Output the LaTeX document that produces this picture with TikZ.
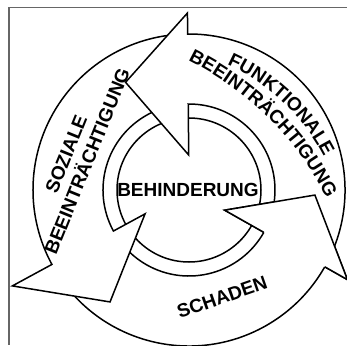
\documentclass[tikz,border=0pt]{standalone}
\usepackage{fontspec}
\setmainfont{Liberation Sans}
\usepackage{tikz}
\usetikzlibrary{decorations.text}
\newcommand{\lbl}{\fontsize{19}{19}\selectfont\bfseries}
\tikzset{arrowpart/.style={draw,fill=white,line width=1.5pt,line join=miter},
  frame/.style={draw=black!60,line width=1.3pt},
  txt/.style={font=\lbl,inner sep=0pt,anchor=base},
  arctxt/.style={decorate,decoration={text along path,text={|\lbl|#1},text align=center}}}

\begin{document}
\begin{tikzpicture}[x=1pt,y=1pt]
        \useasboundingbox (-189,-155) rectangle (158,190);
        \clip (-189,-155) rectangle (158,190);
        \draw[frame] (158,182.5) -- (-180,182.5) -- (-180,-155);

        \node[circle,draw,line width=1.5pt,minimum size=144pt,inner sep=0pt] (ring) at (0,0) {};

        % schaden
        \draw[arrowpart] (211:86) -- (211:156) arc[start angle=211,end angle=330.5,radius=156]
            -- (330.5:182) -- (357.7:126) -- (330.5:41) -- (330.5:86)
            arc[start angle=330.5,end angle=211,radius=86] -- cycle;
        % soziale
        \draw[arrowpart] (93:86) -- (93:156) arc[start angle=93,end angle=208.5,radius=156]
            -- (208.5:201) -- (234.8:137) -- (208.5:50) -- (208.5:86)
            arc[start angle=208.5,end angle=93,radius=86] -- cycle;
        % funktionale
        \draw[arrowpart] (-27:86) -- (-27:156) arc[start angle=-27,end angle=90.5,radius=156]
            -- (90.5:177) -- (120.5:125) -- (90.5:35) -- (90.5:86)
            arc[start angle=90.5,end angle=-27,radius=86] -- cycle;
        % head of schaden over the tail of funktionale
        \fill[white] (330.5:182) -- (357.7:126) -- (330.5:41) -- cycle;
        \draw[line width=1.5pt,line join=miter] (330.5:156) -- (330.5:182) -- (357.7:126) -- (330.5:41) -- (330.5:86);

        \node[txt] (beh) at (-1,-6.8) {BEHINDERUNG};
        \node[txt,rotate=68] (soz) at (-116.7,33.5) {SOZIALE};
        \node[txt,rotate=68] (beeL) at (-95.7,26.5) {BEEINTRÄCHTIGUNG};
        \node[txt,rotate=19.3] (schaden) at (35.3,-113.4) {SCHADEN};
        \path[arctxt=FUNKTIONALE,shift={(-44.5,-59)}] (86.5:201.7) arc[start angle=86.5,end angle=6.5,radius=201.7];
        \path[arctxt=BEEINTRÄCHTIGUNG,shift={(-136.6,-145.7)}] (75.2:306.7) arc[start angle=75.2,end angle=15.2,radius=306.7];
    \end{tikzpicture}
\end{document}
